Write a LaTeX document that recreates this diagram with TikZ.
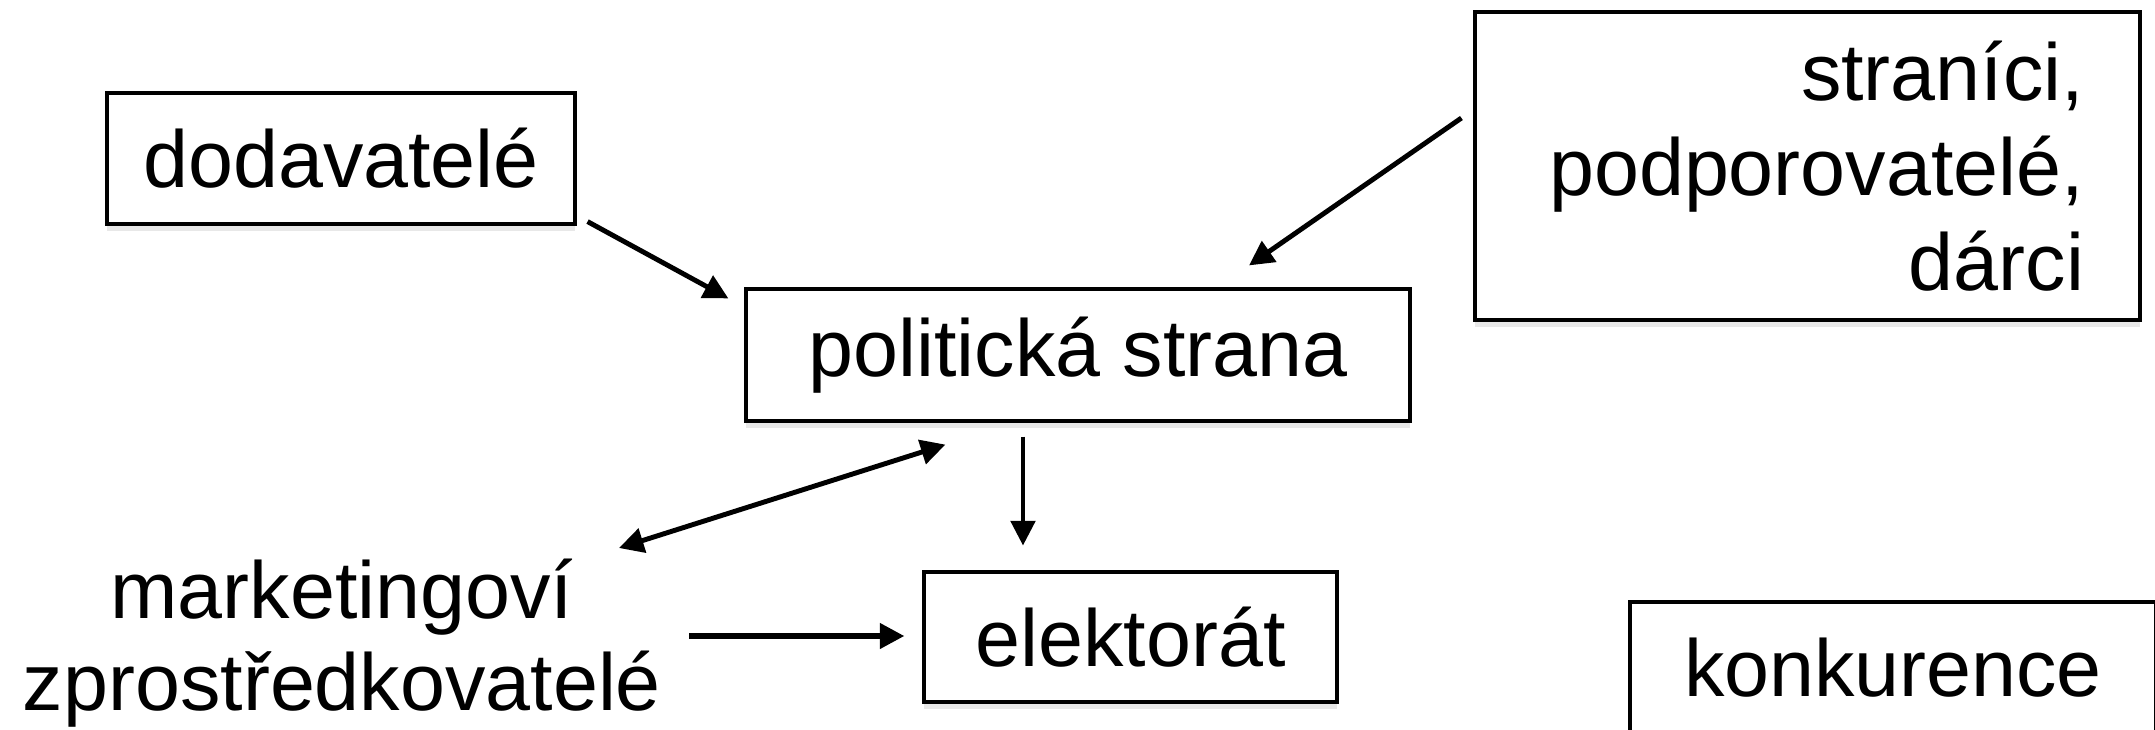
\documentclass[tikz,border=0pt]{standalone}
\usepackage{fontspec}
\setmainfont{Liberation Sans}
\usetikzlibrary{arrows.meta,calc,shadows}
\begin{document}
\begin{tikzpicture}[
  txt/.style={font=\fontsize{23}{26.2}\selectfont},
  box/.style={txt, draw=black, line width=0.9pt, fill=white, inner sep=0pt,
    drop shadow={shadow xshift=0pt, shadow yshift=-2pt, opacity=0.18}},
  conn/.style={line width=1.4pt, -{Triangle[length=7pt,width=7pt]}},
  both/.style={line width=1.4pt, {Triangle[length=7pt,width=7pt]}-{Triangle[length=7pt,width=7pt]}}
]
\useasboundingbox (0,0) rectangle (21.55,-7.30);

\node[box, minimum width=4.68cm, minimum height=1.31cm] (dod) at (3.41,-1.585) {dodavatelé};
\node[box, minimum width=6.64cm, minimum height=1.32cm] (pol) at (10.78,-3.55) {politická strana};
\node[box, minimum width=6.65cm, minimum height=3.08cm, align=right, text width=5.53cm,
      font=\fontsize{23}{27}\selectfont] (str) at (18.075,-1.66) {straníci,\\podporovatelé,\\dárci};
\node[box, minimum width=4.13cm, minimum height=1.30cm] (ele) at (11.305,-6.37) {elektorát};
\node[box, minimum width=5.26cm, minimum height=1.32cm] (kon) at (18.93,-6.68) {konkurence};
\node[txt, align=center, inner sep=0pt] (mkt) at (3.42,-6.43) {marketingoví\\zprostředkovatelé};

\draw[conn] ($(dod.south east)+(0.11,0.04)$) -- ($(pol.north west)+(-0.16,-0.11)$);
\draw[conn] ($(str.west)+(-0.12,0.48)$) -- ($(pol.north)+(1.71,0.22)$);
\draw[conn, line width=1.0pt] ($(pol.south)+(-0.55,-0.14)$) -- ($(ele.north)+(-1.075,0.25)$);
\draw[both] ($(mkt.center)+(2.77,0.95)$) -- ($(pol.south west)+(2.01,-0.22)$);
\draw[conn, line width=1.6pt] ($(mkt.center)+(3.47,0.07)$) -- ($(ele.west)+(-0.18,0.01)$);
\end{tikzpicture}
\end{document}
